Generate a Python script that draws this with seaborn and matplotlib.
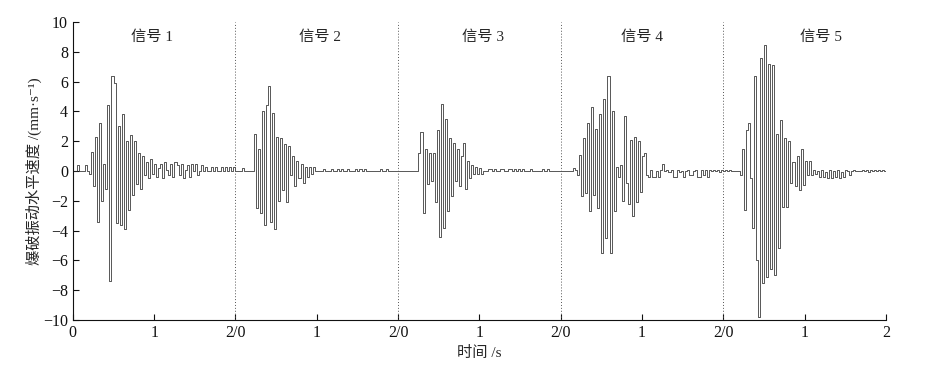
import numpy as np
import pandas as pd
import matplotlib
matplotlib.use("Agg")
import matplotlib.pyplot as plt
import seaborn as sns

# 5 个信号，每个 2 s，采样间隔 0.025 s
dt = 0.025
duration = 2.0

signal_1 = [
    0, 0, 0.4, 0, 0, 0, 0.4, 0, -0.2, 1.3,
    -1.0, 2.3, -3.4, 3.2, -2.0, 0.5, -1.2, 4.4, -7.4, 6.4,
    5.9, -3.5, 3.0, -3.6, 3.8, -3.9, 2.0, -2.6, 2.4, -1.6,
    2.0, -0.9, 1.2, -1.2, 1.0, -0.3, 0.6, -0.5, 0.8, -0.2,
    0.5, -0.4, 0.2, 0.5, -0.5, 0.6, 0.1, -0.3, 0.5, -0.4,
    0.6, 0.4, -0.3, 0.5, -0.5, 0.1, 0.4, -0.4, 0.5, 0.0,
    0.5, -0.3, 0.0, 0.4, 0.0, 0.3, 0.0, 0.0, 0.3, 0.0,
    0.3, 0.0, 0.0, 0.3, 0.0, 0.3, 0.0, 0.3, 0.0, 0.3,
]
signal_2 = [
    0, 0, 0, 0.2, 0, 0, 0, 0, 0, 2.5,
    -2.5, 1.5, -2.8, 4.0, -3.6, 4.4, 5.7, -3.4, 3.9, -3.9,
    2.3, -2.0, 2.2, -1.3, 1.8, -2.1, 1.7, -0.3, 1.0, -1.0,
    0.7, -0.5, 0.5, -0.8, 0.3, -0.4, 0.3, -0.2, 0.3, 0.0,
    0, 0, 0, 0.15, 0, 0, 0, 0.15, 0, 0,
    0.15, 0, 0.15, 0, 0, 0.15, 0, 0, 0, 0.15,
    0, 0.15, 0, 0.15, 0, 0, 0, 0, 0, 0,
    0, 0.15, 0, 0, 0.15, 0, 0, 0, 0, 0,
]
signal_3 = [
    0, 0, 0, 0, 0, 0, 0, 0, 0, 0,
    1.2, 2.6, -2.8, 1.5, -0.9, 1.2, -0.7, 1.2, -2.1, 2.75,
    -4.4, 4.5, -3.85, 3.5, -2.7, 2.2, -1.7, 1.85, -0.7, 1.5,
    -1.0, 1.0, 1.85, -1.2, 0.7, -0.5, 0.4, -0.2, 0.3, -0.2,
    0.2, -0.2, 0, 0, 0.15, 0.15, 0, 0.15, 0, 0,
    0.15, 0.15, 0, 0, 0.15, 0.15, 0, 0.15, 0, 0.15,
    0, 0.15, 0, 0, 0, 0.15, 0, 0, 0, 0,
    0, 0.15, 0, 0.15, 0, 0, 0, 0, 0, 0,
]
signal_4 = [
    0, 0, 0, 0, 0, 0, 0.2, 0.1, -0.3, 1.1,
    -1.65, 2.2, -1.5, 3.25, -2.7, 4.3, -1.6, 2.8, -2.5, 3.8,
    -5.5, 4.8, -4.5, 6.4, -5.5, 4.0, -2.7, 0.3, -0.4, 0.4,
    -2.0, 3.7, -0.8, -2.2, 2.1, -3.05, 2.25, -2.05, 2.0, -1.4,
    1.0, 1.2, -0.3, -0.4, 0.1, -0.4, -0.4, 0.0, -0.4, 0.1,
    0.5, 0.0, 0.1, -0.1, 0.1, -0.4, -0.4, 0.1, -0.1, 0.0,
    -0.4, 0.0, 0.1, -0.3, -0.3, 0.0, 0.1, -0.4, -0.4, 0.1,
    -0.3, 0.1, -0.4, 0.1, 0.0, 0.1, 0.0, 0.1, -0.1, 0.1,
]
signal_5 = [
    0, 0.1, 0, 0.1, 0, 0, 0, 0, -0.3, 1.5,
    -2.6, 2.75, 3.2, -0.5, -3.8, 6.4, -6.0, -9.8, 7.6, -7.5,
    8.45, -7.1, 7.2, -6.6, 7.1, -7.0, 2.5, -5.2, 3.4, -2.4,
    2.2, -2.4, 2.0, -0.8, 0.6, -1.0, 1.0, -1.3, 1.5, -0.95,
    0.7, -0.3, 0.7, -0.3, 0.1, -0.2, 0.0, -0.4, 0.1, -0.4,
    -0.1, -0.5, 0.1, -0.5, 0.0, -0.4, 0.1, -0.5, -0.1, -0.4,
    0.1, 0.0, -0.3, 0.0, 0.1, 0.0, 0.0, 0.0, 0.1, 0.0,
    0.1, -0.1, 0.1, 0.0, 0.1, 0.0, 0.1, 0.0, 0.1, 0.0,
]

signals = [signal_1, signal_2, signal_3, signal_4, signal_5]
signal_names = ["信号 1", "信号 2", "信号 3", "信号 4", "信号 5"]
label_x = [0.97, 3.04, 5.05, 7.0, 9.2]
tick_labels = ["0", "1", "2/0", "1", "2/0", "1", "2/0", "1", "2/0", "1", "2"]

# 拼接成一条连续曲线
rows = []
for k, s in enumerate(signals):
    for i, v in enumerate(s):
        rows.append({"x": k * duration + i * dt, "v": v})
rows.append({"x": len(signals) * duration, "v": signals[-1][-1]})
df = pd.DataFrame(rows)

sns.set_style("ticks")
plt.rcParams["font.family"] = ["Liberation Serif", "Noto Sans CJK SC", "DejaVu Sans"]

fig = plt.figure(figsize=(9.34, 3.78), dpi=100)
ax = fig.add_axes([0.078, 0.1534, 0.8706, 0.7884])

sns.lineplot(data=df, x="x", y="v", ax=ax, color="#2a2a2a", linewidth=0.55,
             drawstyle="steps-post", estimator=None, sort=False)

for k in range(1, len(signals)):
    ax.axvline(k * duration, color="#555555", linestyle=(0, (1, 2)), linewidth=0.7)

for name, lx in zip(signal_names, label_x):
    ax.text(lx, 9.0, name, ha="center", va="center", fontsize=11)

ax.set_xlim(0, len(signals) * duration)
ax.set_ylim(-10, 10)
ax.set_xticks(np.arange(0, len(signals) * duration + 0.1, 1))
ax.set_xticklabels(tick_labels)
ax.set_yticks(np.arange(-10, 11, 2))
ax.tick_params(direction="in", length=4, width=0.8, labelsize=11.5, colors="#111111")
ax.set_xlabel("时间 /s", fontsize=11)
ax.set_ylabel("爆破振动水平速度 /(mm·s⁻¹)", fontsize=11, labelpad=1)
sns.despine(ax=ax)
for sp in ["left", "bottom"]:
    ax.spines[sp].set_linewidth(0.8)
    ax.spines[sp].set_color("#111111")

fig.savefig("out.png", dpi=100)
